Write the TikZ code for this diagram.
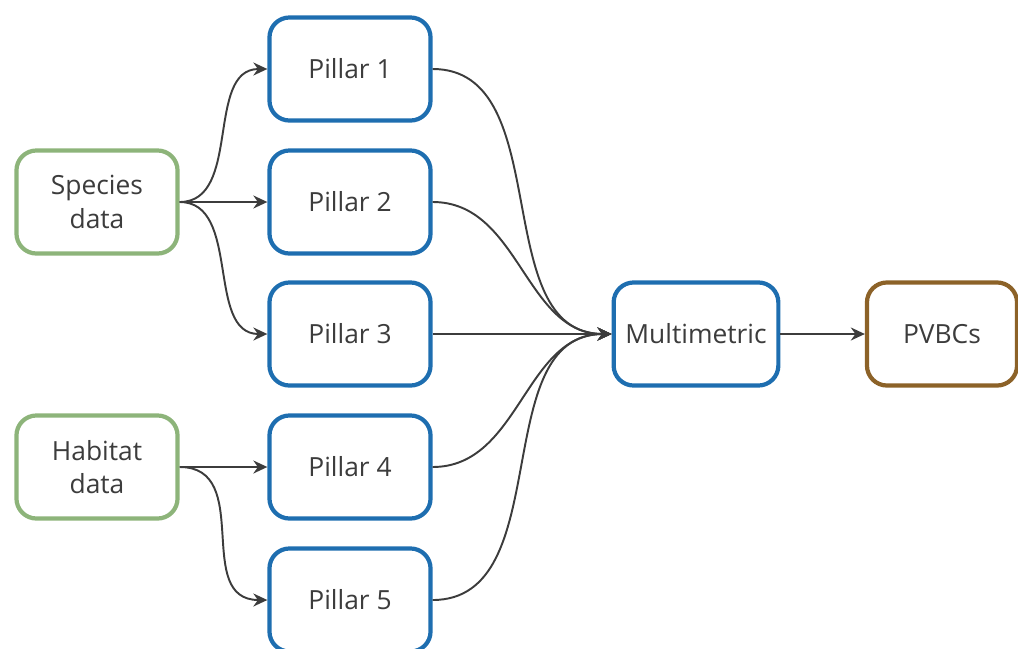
\documentclass[tikz,border=0pt]{standalone}
\usepackage{fontspec}
\setmainfont{Open Sans}
\usetikzlibrary{arrows.meta}
\definecolor{datagreen}{RGB}{141,180,122}
\definecolor{pillarblue}{RGB}{30,110,176}
\definecolor{outbrown}{RGB}{140,98,40}
\definecolor{txtgray}{RGB}{60,60,60}
\begin{document}
\begin{tikzpicture}[x=0.01cm, y=-0.01cm,
    box/.style={rectangle, rounded corners=0.2cm, line width=1.2pt, fill=white,
      minimum width=1.61cm, minimum height=1.03cm, align=center,
      text=txtgray, font=\fontsize{7.5}{9.5}\selectfont},
    databox/.style={box, draw=datagreen},
    pillarbox/.style={box, draw=pillarblue},
    outbox/.style={box, draw=outbrown},
    link/.style={draw=txtgray, line width=0.55pt, -{Stealth[length=1.4mm,width=1.3mm]}}]
          \useasboundingbox (0,0) rectangle (1018,648);
          \clip (0,0) rectangle (1018,648);
          \node[databox] (species) at (97,202){Species\\data};
          \node[databox] (habitat) at (97,467){Habitat\\data};
          \node[pillarbox] (p1) at (350,69){Pillar 1};
          \node[pillarbox] (p2) at (350,202){Pillar 2};
          \node[pillarbox] (p3) at (350,334){Pillar 3};
          \node[pillarbox] (p4) at (350,467){Pillar 4};
          \node[pillarbox] (p5) at (350,600){Pillar 5};
          \node[pillarbox] (multi) at (696,334){Multimetric};
          \node[outbox, minimum width=1.5cm] (pvbc) at (942,334){PVBCs};
          % species -> pillars 1-3
          \draw[link] (species.east) to[out=0, in=180] (p1.west);
          \draw[link] (species.east) -- (p2.west);
          \draw[link] (species.east) to[out=0, in=180] (p3.west);
          % habitat -> pillars 4-5
          \draw[link] (habitat.east) -- (p4.west);
          \draw[link] (habitat.east) to[out=0, in=180, looseness=1.2] (p5.west);
          % pillars -> multimetric
          \draw[link] (p1.east) to[out=0, in=180] (multi.west);
          \draw[link] (p2.east) to[out=0, in=180] (multi.west);
          \draw[link] (p3.east) -- (multi.west);
          \draw[link] (p4.east) to[out=0, in=180] (multi.west);
          \draw[link] (p5.east) to[out=0, in=180] (multi.west);
          \draw[link] (multi.east) -- (pvbc.west);
        \end{tikzpicture}
\end{document}
